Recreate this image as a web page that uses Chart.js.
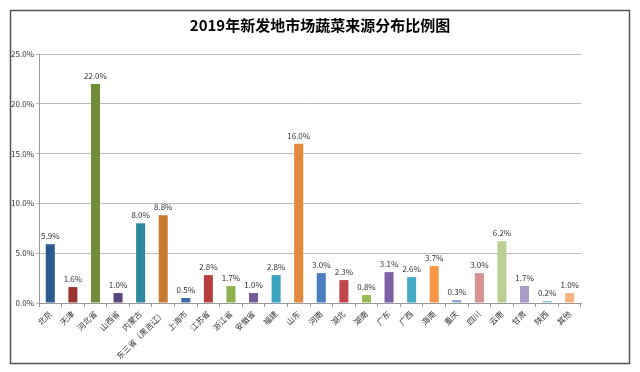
<!DOCTYPE html>
<html>
<head>
<meta charset="utf-8">
<script src="https://cdn.jsdelivr.net/npm/chart.js@4/dist/chart.umd.min.js"></script>
<style>
html,body{margin:0;padding:0;background:#fff;}
#wrap{position:relative;width:640px;height:372px;}
</style>
</head>
<body>
<div id="wrap"><canvas id="c" width="640" height="372"></canvas></div>
<script>
const titleText = '2019年新发地市场蔬菜来源分布比例图';
const categories = ['北京','天津','河北省','山西省','内蒙古','东三省（黑吉辽）','上海市','江苏省','浙江省','安徽省','福建','山东','河南','湖北','湖南','广东','广西','海南','重庆','四川','云南','甘肃','陕西','其他'];
const shares = [5.9,1.6,22.0,1.0,8.0,8.8,0.5,2.8,1.7,1.0,2.8,16.0,3.0,2.3,0.8,3.1,2.6,3.7,0.3,3.0,6.2,1.7,0.2,1.0];
const barColors = ['#2c5c8f','#9a3532','#718d39','#5b4581','#2e889f','#c87a32',
                   '#3d6cab','#b6403d','#8db24d','#755a9c','#3aa3bf','#e3883c',
                   '#4a7cbf','#c0474a','#9bbb59','#7d61a6','#45aac6','#f79646',
                   '#8ba9d3','#d49290','#bacf92','#aa9cc6','#8ac7da','#f8b27f'];
const yTicks = [0,5,10,15,20,25];

const FONT = '"Noto Sans CJK SC", "DejaVu Sans", sans-serif';

const borderPlugin = {
  id:'frame',
  beforeDraw(chart){
    const ctx = chart.ctx;
    ctx.save();
    ctx.fillStyle = '#fff';
    ctx.fillRect(0,0,chart.width,chart.height);
    ctx.strokeStyle = '#555';
    ctx.lineWidth = 1.5;
    ctx.strokeRect(10.5,10.5,619,353);
    ctx.restore();
  }
};

const labelPlugin = {
  id:'barLabels',
  afterDatasetsDraw(chart){
    const ctx = chart.ctx;
    const meta = chart.getDatasetMeta(0);
    ctx.save();
    ctx.font = '8px ' + FONT;
    ctx.fillStyle = '#333';
    ctx.textAlign = 'center';
    ctx.textBaseline = 'bottom';
    meta.data.forEach((bar,i)=>{
      ctx.fillText(shares[i].toFixed(1)+'%', bar.x, bar.y - 4);
    });
    ctx.restore();
  }
};

new Chart(document.getElementById('c'), {
  type:'bar',
  data:{
    labels:categories,
    datasets:[{
      data:shares,
      backgroundColor:barColors,
      borderWidth:0,
      barPercentage:0.4,
      categoryPercentage:1.0
    }]
  },
  options:{
    responsive:false,
    animation:false,
    devicePixelRatio:1,
    layout:{padding:0},
    plugins:{
      legend:{display:false},
      tooltip:{enabled:false},
      title:{
        display:true,
        text:titleText,
        color:'#000',
        font:{family:FONT,size:15,weight:'bold',lineHeight:1.2},
        padding:{top:16,bottom:20}
      }
    },
    scales:{
      x:{
        offset:true,
        grid:{display:true,drawOnChartArea:false,drawTicks:true,tickLength:4,color:'#999',offset:true},
        border:{display:true,color:'#999',width:1},
        ticks:{
          color:'#333',
          font:{family:FONT,size:8},
          maxRotation:45,minRotation:45,autoSkip:false,padding:2
        },
        afterFit(scale){ scale.height = 69; }
      },
      y:{
        min:0,max:25,
        afterBuildTicks(scale){ scale.ticks = yTicks.map(v=>({value:v})); },
        grid:{color:'#bbb',lineWidth:1,drawTicks:true,tickLength:3},
        border:{display:true,color:'#999',width:1},
        ticks:{
          color:'#333',
          font:{family:FONT,size:8},
          padding:2,
          callback:(v)=>v.toFixed(1)+'%'
        },
        afterFit(scale){ scale.width = 39; }
      },
      yRight:{
        position:'right',
        min:0,max:25,
        grid:{display:false},
        border:{display:false},
        ticks:{display:false},
        afterFit(scale){ scale.width = 59; }
      }
    }
  },
  plugins:[borderPlugin,labelPlugin]
});
</script>
</body>
</html>
